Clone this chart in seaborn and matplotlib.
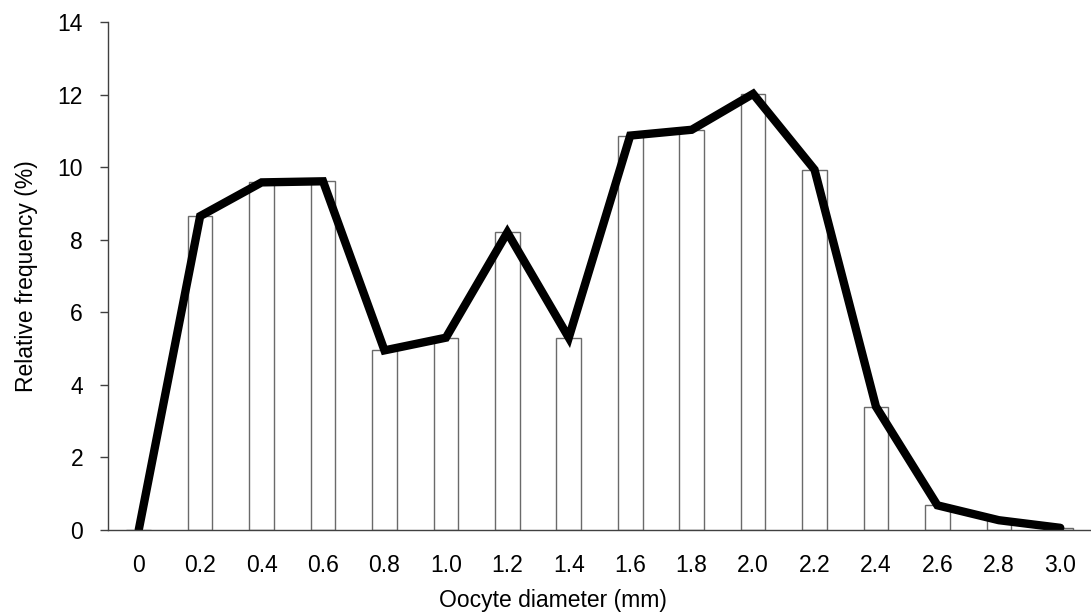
import numpy as np
import pandas as pd
import seaborn as sns
import matplotlib.pyplot as plt

# Oocyte size-frequency distribution
diameter_labels = ['0', '0.2', '0.4', '0.6', '0.8', '1.0', '1.2', '1.4',
                   '1.6', '1.8', '2.0', '2.2', '2.4', '2.6', '2.8', '3.0']
rel_freq = [0.0, 8.65, 9.58, 9.61, 4.95, 5.3, 8.2, 5.3,
            10.87, 11.03, 12.02, 9.93, 3.4, 0.68, 0.27, 0.06]
y_ticks = [0, 2, 4, 6, 8, 10, 12, 14]

df = pd.DataFrame({'Diameter': diameter_labels, 'Freq': rel_freq})
df['Pos'] = np.arange(len(df))

sns.set_style('white')
plt.rcParams['font.family'] = ['Liberation Sans', 'DejaVu Sans']
plt.rcParams['text.color'] = 'black'
plt.rcParams['axes.labelcolor'] = 'black'
fs = 16.5

fig = plt.figure(figsize=(10.91, 6.16), dpi=100)
ax = fig.add_axes([108 / 1091, 1 - 530 / 616, 1 - 108 / 1091, (530 - 22) / 616])

sns.barplot(data=df, x='Diameter', y='Freq', order=diameter_labels, width=0.4,
            color='white', edgecolor='#6a6a6a', linewidth=1, ax=ax)
sns.lineplot(data=df, x='Pos', y='Freq', color='black', linewidth=6,
             solid_joinstyle='miter', ax=ax)

ax.set_xlim(-0.5, -0.5 + (1091 - 108) / 62.2)
ax.set_ylim(0, 14)
ax.set_yticks(y_ticks)
ax.set_yticklabels([str(t) for t in y_ticks])

# labels sit at category centres, tick marks at the boundaries
ax.set_xticks(np.arange(len(diameter_labels)))
ax.set_xticklabels(diameter_labels)
ax.set_xticks(np.arange(len(diameter_labels)) + 0.5, minor=True)
ax.tick_params(axis='x', which='major', length=0, pad=17, labelsize=fs, labelcolor='black')
ax.tick_params(axis='x', which='minor', direction='inout', length=11, width=1, color='#404040')
ax.tick_params(axis='y', direction='out', length=6, width=1, color='#404040',
               pad=12, labelsize=fs, labelcolor='black', left=True)

for side in ['top', 'right']:
    ax.spines[side].set_visible(False)
for side in ['left', 'bottom']:
    ax.spines[side].set_color('#404040')
    ax.spines[side].set_linewidth(1)

ax.set_xlabel('Oocyte diameter (mm)', fontsize=fs, labelpad=10)
ax.set_ylabel('Relative frequency (%)', fontsize=fs, labelpad=14)
ax.xaxis.set_label_coords((553 - 108) / (1091 - 108), -(600 - 530) / (530 - 22))
ax.xaxis.label.set_va('center')

fig.savefig('out.png', dpi=100)
